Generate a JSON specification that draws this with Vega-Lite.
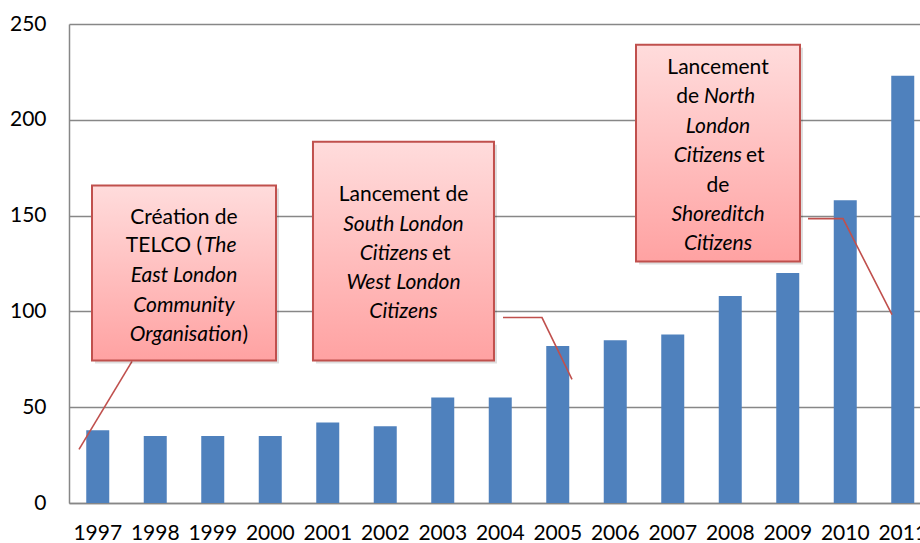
{
  "$schema": "https://vega.github.io/schema/vega-lite/v6.json",
  "width": 851,
  "height": 479,
  "autosize": "none",
  "padding": {"left": 69, "top": 24, "right": 0, "bottom": 40},
  "background": "white",
  "config": {"view": {"stroke": null}},
  "datasets": {
    "bars": [
      {"year": "1997", "value": 38}, {"year": "1998", "value": 35}, {"year": "1999", "value": 35},
      {"year": "2000", "value": 35}, {"year": "2001", "value": 42}, {"year": "2002", "value": 40},
      {"year": "2003", "value": 55}, {"year": "2004", "value": 55}, {"year": "2005", "value": 82},
      {"year": "2006", "value": 85}, {"year": "2007", "value": 88}, {"year": "2008", "value": 108},
      {"year": "2009", "value": 120}, {"year": "2010", "value": 158}, {"year": "2011", "value": 223}
    ],
    "boxes": [
      {"id": 1, "x1": 1996.9, "x2": 2000.1, "y1": 74.4, "y2": 165.7},
      {"id": 2, "x1": 2000.743, "x2": 2003.891, "y1": 74.4, "y2": 188.6},
      {"id": 3, "x1": 2006.361, "x2": 2009.213, "y1": 126.0, "y2": 239.2}
    ],
    "links": [
      {"id": 1, "o": 0, "yr": 1997.596, "v": 73.9},
      {"id": 1, "o": 1, "yr": 1996.674, "v": 28.0},
      {"id": 2, "o": 0, "yr": 2004.048, "v": 96.8},
      {"id": 2, "o": 1, "yr": 2004.726, "v": 96.8},
      {"id": 2, "o": 2, "yr": 2005.248, "v": 64.5},
      {"id": 3, "o": 0, "yr": 2009.352, "v": 148.4},
      {"id": 3, "o": 1, "yr": 2009.961, "v": 148.4},
      {"id": 3, "o": 2, "yr": 2010.813, "v": 98.3}
    ],
    "labels": [
      {"t": "Création de", "yr": 1998.5, "v": 149.0, "s": "n", "al": "c"},
      {"t": "TELCO (", "yr": 1998.813, "v": 133.9, "s": "n", "al": "r"},
      {"t": "The", "yr": 1998.848, "v": 133.9, "s": "i", "al": "l"},
      {"t": "East London", "yr": 1998.5, "v": 118.3, "s": "i", "al": "c"},
      {"t": "Community", "yr": 1998.5, "v": 102.6, "s": "i", "al": "c"},
      {"t": "Organisation", "yr": 1999.509, "v": 87.5, "s": "i", "al": "r"},
      {"t": ")", "yr": 1999.517, "v": 87.5, "s": "n", "al": "l"},
      {"t": "Lancement de", "yr": 2002.317, "v": 160.8, "s": "n", "al": "c"},
      {"t": "South London", "yr": 2002.317, "v": 145.1, "s": "i", "al": "c"},
      {"t": "Citizens", "yr": 2002.743, "v": 130.0, "s": "i", "al": "r"},
      {"t": "et", "yr": 2002.813, "v": 130.0, "s": "n", "al": "l"},
      {"t": "West London", "yr": 2002.317, "v": 114.9, "s": "i", "al": "c"},
      {"t": "Citizens", "yr": 2002.317, "v": 99.8, "s": "i", "al": "c"},
      {"t": "Lancement", "yr": 2007.787, "v": 227.0, "s": "n", "al": "c"},
      {"t": "de", "yr": 2007.457, "v": 211.9, "s": "n", "al": "r"},
      {"t": "North", "yr": 2007.543, "v": 211.9, "s": "i", "al": "l"},
      {"t": "London", "yr": 2007.787, "v": 196.3, "s": "i", "al": "c"},
      {"t": "Citizens", "yr": 2008.204, "v": 181.1, "s": "i", "al": "r"},
      {"t": "et", "yr": 2008.274, "v": 181.1, "s": "n", "al": "l"},
      {"t": "de", "yr": 2007.787, "v": 165.5, "s": "n", "al": "c"},
      {"t": "Shoreditch", "yr": 2007.787, "v": 150.4, "s": "i", "al": "c"},
      {"t": "Citizens", "yr": 2007.787, "v": 135.3, "s": "i", "al": "c"}
    ]
  },
  "layer": [
    {
      "data": {"name": "bars"},
      "mark": {"type": "bar", "color": "#4F81BD"},
      "encoding": {
        "x": {
          "field": "year", "type": "ordinal",
          "scale": {"range": [0, 862.5], "paddingInner": 0.6, "paddingOuter": 0.3},
          "axis": {
            "title": null, "labelAngle": 0, "labelFont": "Lato", "labelFontSize": 21,
            "labelColor": "#000000", "labelPadding": 19, "ticks": false, "tickSize": 0,
            "domainColor": "#878787", "domainWidth": 1.5, "labelOverlap": false
          }
        },
        "y": {
          "field": "value", "type": "quantitative",
          "scale": {"domain": [0, 250], "nice": false},
          "axis": {
            "title": null, "values": [0, 50, 100, 150, 200, 250], "grid": true,
            "gridColor": "#878787", "gridWidth": 1.5, "domainColor": "#878787", "domainWidth": 1.5,
            "ticks": false, "tickSize": 0, "labelFont": "Lato", "labelFontSize": 21,
            "labelColor": "#000000", "labelPadding": 23
          }
        }
      }
    },
    {
      "layer": [
        {
          "data": {"name": "links"},
          "mark": {"type": "line", "color": "#C0504D", "strokeWidth": 1.6},
          "encoding": {
            "x": {"field": "yr", "type": "quantitative", "scale": {"domain": [1996.5, 2011.5], "range": [0, 862.5], "zero": false, "nice": false}, "axis": null},
            "y": {"field": "v", "type": "quantitative"},
            "detail": {"field": "id"},
            "order": {"field": "o"}
          }
        },
        {
          "data": {"name": "boxes"},
          "mark": {"type": "rect", "color": "#000000", "opacity": 0.13, "xOffset": 3, "x2Offset": 3, "yOffset": 3, "y2Offset": 3},
          "encoding": {
            "x": {"field": "x1", "type": "quantitative", "scale": {"domain": [1996.5, 2011.5], "range": [0, 862.5], "zero": false, "nice": false}, "axis": null},
            "x2": {"field": "x2"},
            "y": {"field": "y1", "type": "quantitative"},
            "y2": {"field": "y2"}
          }
        },
        {
          "data": {"name": "boxes"},
          "mark": {
            "type": "rect",
            "fill": {"gradient": "linear", "x1": 0, "y1": 0, "x2": 0, "y2": 1,
              "stops": [{"offset": 0, "color": "#FFDCDC"}, {"offset": 1, "color": "#FFA2A2"}]},
            "stroke": "#C0504D", "strokeWidth": 2
          },
          "encoding": {
            "x": {"field": "x1", "type": "quantitative", "scale": {"domain": [1996.5, 2011.5], "range": [0, 862.5], "zero": false, "nice": false}, "axis": null},
            "x2": {"field": "x2"},
            "y": {"field": "y1", "type": "quantitative"},
            "y2": {"field": "y2"}
          }
        },
        {
          "data": {"name": "labels"},
          "transform": [{"filter": "datum.s == 'n' && datum.al == 'c'"}],
          "mark": {"type": "text", "font": "Lato", "fontSize": 21, "color": "#000000", "align": "center", "baseline": "middle"},
          "encoding": {
            "x": {"field": "yr", "type": "quantitative", "scale": {"domain": [1996.5, 2011.5], "range": [0, 862.5], "zero": false, "nice": false}, "axis": null},
            "y": {"field": "v", "type": "quantitative"},
            "text": {"field": "t"}
          }
        },
        {
          "data": {"name": "labels"},
          "transform": [{"filter": "datum.s == 'i' && datum.al == 'c'"}],
          "mark": {"type": "text", "font": "Lato", "fontSize": 21, "fontStyle": "italic", "color": "#000000", "align": "center", "baseline": "middle"},
          "encoding": {
            "x": {"field": "yr", "type": "quantitative", "scale": {"domain": [1996.5, 2011.5], "range": [0, 862.5], "zero": false, "nice": false}, "axis": null},
            "y": {"field": "v", "type": "quantitative"},
            "text": {"field": "t"}
          }
        },
        {
          "data": {"name": "labels"},
          "transform": [{"filter": "datum.s == 'n' && datum.al == 'r'"}],
          "mark": {"type": "text", "font": "Lato", "fontSize": 21, "color": "#000000", "align": "right", "baseline": "middle"},
          "encoding": {
            "x": {"field": "yr", "type": "quantitative", "scale": {"domain": [1996.5, 2011.5], "range": [0, 862.5], "zero": false, "nice": false}, "axis": null},
            "y": {"field": "v", "type": "quantitative"},
            "text": {"field": "t"}
          }
        },
        {
          "data": {"name": "labels"},
          "transform": [{"filter": "datum.s == 'i' && datum.al == 'r'"}],
          "mark": {"type": "text", "font": "Lato", "fontSize": 21, "fontStyle": "italic", "color": "#000000", "align": "right", "baseline": "middle"},
          "encoding": {
            "x": {"field": "yr", "type": "quantitative", "scale": {"domain": [1996.5, 2011.5], "range": [0, 862.5], "zero": false, "nice": false}, "axis": null},
            "y": {"field": "v", "type": "quantitative"},
            "text": {"field": "t"}
          }
        },
        {
          "data": {"name": "labels"},
          "transform": [{"filter": "datum.s == 'n' && datum.al == 'l'"}],
          "mark": {"type": "text", "font": "Lato", "fontSize": 21, "color": "#000000", "align": "left", "baseline": "middle"},
          "encoding": {
            "x": {"field": "yr", "type": "quantitative", "scale": {"domain": [1996.5, 2011.5], "range": [0, 862.5], "zero": false, "nice": false}, "axis": null},
            "y": {"field": "v", "type": "quantitative"},
            "text": {"field": "t"}
          }
        },
        {
          "data": {"name": "labels"},
          "transform": [{"filter": "datum.s == 'i' && datum.al == 'l'"}],
          "mark": {"type": "text", "font": "Lato", "fontSize": 21, "fontStyle": "italic", "color": "#000000", "align": "left", "baseline": "middle"},
          "encoding": {
            "x": {"field": "yr", "type": "quantitative", "scale": {"domain": [1996.5, 2011.5], "range": [0, 862.5], "zero": false, "nice": false}, "axis": null},
            "y": {"field": "v", "type": "quantitative"},
            "text": {"field": "t"}
          }
        }
      ]
    }
  ],
  "resolve": {"scale": {"x": "independent"}, "axis": {"x": "independent"}}
}
